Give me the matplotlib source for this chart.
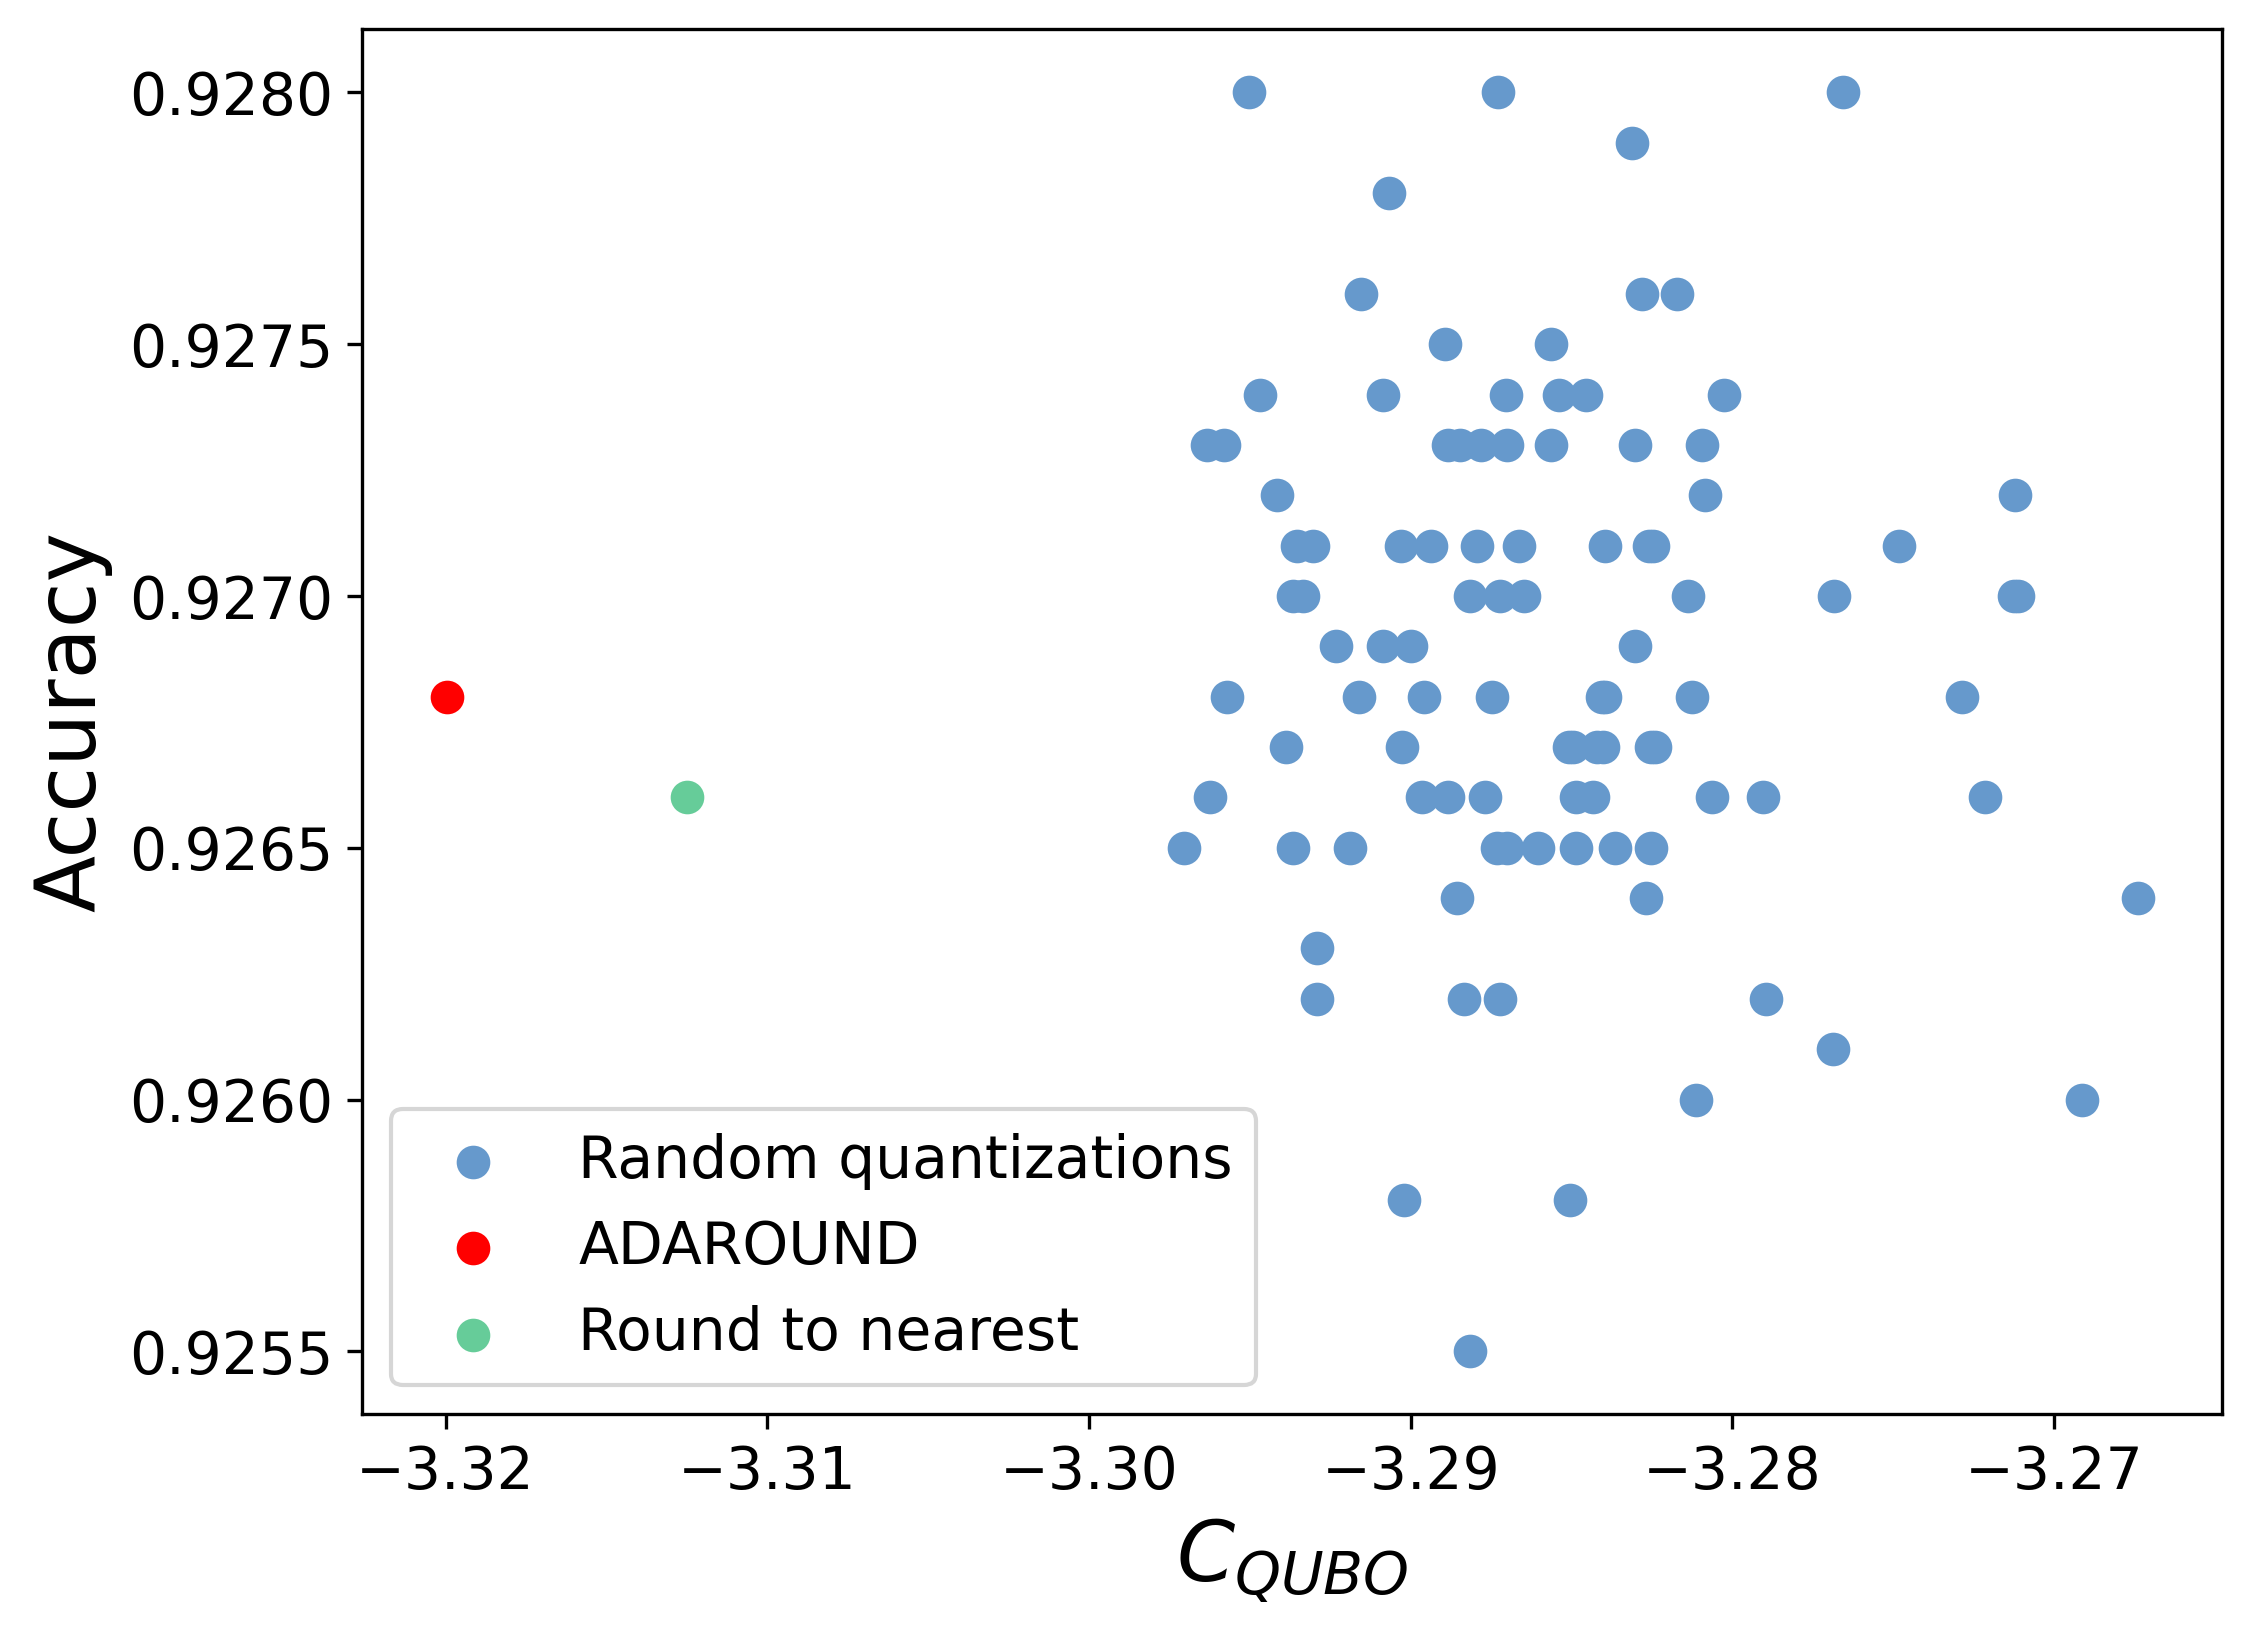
import numpy as np
import matplotlib
matplotlib.use("Agg")
import matplotlib.pyplot as plt

# random quantizations: C_QUBO cost vs accuracy
rand_c = [
    -3.29504, -3.28728, -3.27656,
    -3.28313,
    -3.29067,
    -3.29156, -3.28281, -3.28174,
    -3.28893, -3.28563,
    -3.29469, -3.29085, -3.28705, -3.28540, -3.28455, -3.28027,
    -3.29634, -3.29580, -3.28884, -3.28848, -3.28781, -3.28701, -3.28563, -3.28304, -3.28094,
    -3.29415, -3.28085, -3.27121,
    -3.29353, -3.29304, -3.29031, -3.28938, -3.28795, -3.28665, -3.28397, -3.28259, -3.28246, -3.27482,
    -3.29366, -3.29335, -3.28817, -3.28723, -3.28647, -3.28138, -3.27683, -3.27125, -3.27112,
    -3.29232, -3.29085, -3.29000, -3.28304,
    -3.29571, -3.29161, -3.28960, -3.28746, -3.28406, -3.28397, -3.28125, -3.27286,
    -3.29388, -3.29027, -3.28509, -3.28496, -3.28420, -3.28402, -3.28254, -3.28241,
    -3.29625, -3.28964, -3.28884, -3.28768, -3.28487, -3.28433, -3.28063, -3.27906, -3.27214,
    -3.29705, -3.29366, -3.29188, -3.28732, -3.28701, -3.28603, -3.28487, -3.28366, -3.28254,
    -3.28857, -3.28268, -3.26741,
    -3.29290,
    -3.29290, -3.28835, -3.28723, -3.27897,
    -3.27688,
    -3.28112, -3.26915,
    -3.29022, -3.28504,
    -3.28817,
]
rand_acc = (
    [0.9280] * 3 + [0.9279] * 1 + [0.9278] * 1 + [0.9276] * 3 + [0.9275] * 2
    + [0.9274] * 6 + [0.9273] * 9 + [0.9272] * 3 + [0.9271] * 10 + [0.9270] * 9
    + [0.9269] * 4 + [0.9268] * 8 + [0.9267] * 8 + [0.9266] * 9 + [0.9265] * 9
    + [0.9264] * 3 + [0.9263] * 1 + [0.9262] * 4 + [0.9261] * 1 + [0.9260] * 2
    + [0.9258] * 2 + [0.9255] * 1
)

ada_c = [-3.31996]
ada_acc = [0.9268]
rtn_c = [-3.3125]
rtn_acc = [0.9266]

fig = plt.figure(figsize=(7.5, 5.457), dpi=300)
ax = fig.add_subplot(111)
fig.subplots_adjust(left=0.161, right=0.9876, top=0.982, bottom=0.136)

ax.scatter(rand_c, rand_acc, s=50, color="#6699CC", label="Random quantizations")
ax.scatter(ada_c, ada_acc, s=50, color="red", label="ADAROUND")
ax.scatter(rtn_c, rtn_acc, s=50, color="#66CC99", label="Round to nearest")

ax.set_xlabel(r"$C_{QUBO}$", fontsize=20)
ax.set_ylabel("Accuracy", fontsize=20)
ax.set_yticks([0.9255, 0.9260, 0.9265, 0.9270, 0.9275, 0.9280])
ax.set_yticklabels(["0.9255", "0.9260", "0.9265", "0.9270", "0.9275", "0.9280"])
ax.tick_params(labelsize=14)
ax.legend(loc="lower left", fontsize=14)

fig.savefig("out.png", dpi=300)
